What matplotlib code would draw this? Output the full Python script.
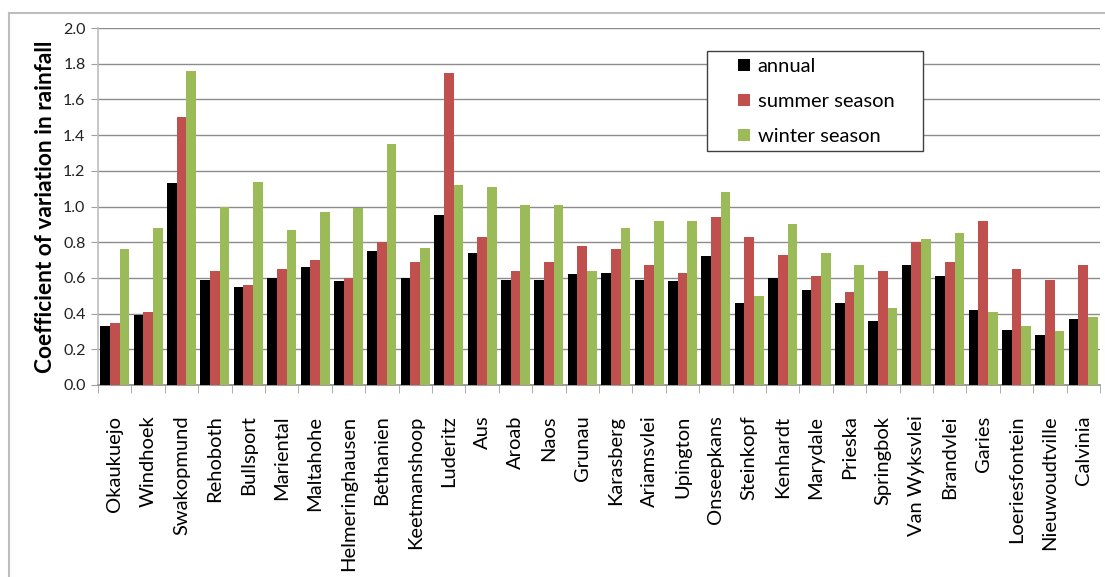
import matplotlib
matplotlib.use("Agg")
import matplotlib.pyplot as plt
from matplotlib.lines import Line2D
from matplotlib.patches import Patch, Rectangle
import numpy as np

plt.rcParams['font.family'] = ['Lato', 'DejaVu Sans']

stations = ["Okaukuejo", "Windhoek", "Swakopmund", "Rehoboth", "Bullsport",
            "Mariental", "Maltahohe", "Helmeringhausen", "Bethanien", "Keetmanshoop",
            "Luderitz", "Aus", "Aroab", "Naos", "Grunau", "Karasberg", "Ariamsvlei",
            "Upington", "Onseepkans", "Steinkopf", "Kenhardt", "Marydale", "Prieska",
            "Springbok", "Van Wyksvlei", "Brandvlei", "Garies", "Loeriesfontein",
            "Nieuwoudtville", "Calvinia"]

annual = [0.33, 0.39, 1.13, 0.59, 0.55, 0.60, 0.66, 0.58, 0.75, 0.60,
          0.95, 0.74, 0.59, 0.59, 0.62, 0.63, 0.59, 0.58, 0.72, 0.46,
          0.60, 0.53, 0.46, 0.36, 0.67, 0.61, 0.42, 0.31, 0.28, 0.37]
summer = [0.35, 0.41, 1.50, 0.64, 0.56, 0.65, 0.70, 0.60, 0.80, 0.69,
          1.75, 0.83, 0.64, 0.69, 0.78, 0.76, 0.67, 0.63, 0.94, 0.83,
          0.73, 0.61, 0.52, 0.64, 0.80, 0.69, 0.92, 0.65, 0.59, 0.67]
winter = [0.76, 0.88, 1.76, 1.00, 1.14, 0.87, 0.97, 0.99, 1.35, 0.77,
          1.12, 1.11, 1.01, 1.01, 0.64, 0.88, 0.92, 0.92, 1.08, 0.50,
          0.90, 0.74, 0.67, 0.43, 0.82, 0.85, 0.41, 0.33, 0.30, 0.38]

series_names = ["annual", "summer season", "winter season"]
colors = ["#000000", "#C0504D", "#9BBB59"]

W, H = 1105, 577
fig = plt.figure(figsize=(W / 100, H / 100), dpi=100)
L, R, T, B = 98, 1100, 28, 385
ax = fig.add_axes([L / W, 1 - B / H, (R - L) / W, (B - T) / H])


def ax_xy(px, py):
    """Pixel position in the figure -> axes fraction."""
    return (px - L) / (R - L), (B - py) / (B - T)


x = np.arange(len(stations))
bw = 0.29
for i, (vals, c) in enumerate(zip([annual, summer, winter], colors)):
    ax.bar(x + (i - 1) * bw, vals, width=bw, color=c, edgecolor="none",
           zorder=3, label=series_names[i])

ax.set_xlim(-0.5, len(stations) - 0.5)
ax.set_ylim(0, 2.0)
yt = np.arange(0, 2.01, 0.2)
ax.set_yticks(yt)
ax.set_yticklabels([f"{v:.1f}" for v in yt], fontsize=11.5)
ax.yaxis.grid(True, color="#8c8c8c", linewidth=1.0, zorder=0)
ax.tick_params(axis="y", direction="out", length=5, color="#a0a0a0", pad=4,
               labelcolor="#222222")

ax.set_xticks(x)
ax.set_xticklabels(stations, rotation=90, fontsize=14.5, va="top", ha="center")
ax.tick_params(axis="x", which="major", length=0, pad=22)
ax.set_xticks(np.arange(-0.5, len(stations), 1.0), minor=True)
ax.tick_params(axis="x", which="minor", direction="out", length=6, color="#a0a0a0")

for side in ["top", "right"]:
    ax.spines[side].set_visible(False)
ax.spines["left"].set_color("#bcbcbc")
ax.spines["bottom"].set_color("#8c8c8c")
ax.spines["left"].set_linewidth(1.2)
ax.spines["bottom"].set_linewidth(1.2)

ax.set_ylabel("Coefficient of variation in rainfall", fontsize=16.3,
              fontweight="bold", labelpad=5)

# legend frame
fx0, fy0 = ax_xy(707, 151)
fx1, fy1 = ax_xy(923, 51)
ax.add_patch(Rectangle((fx0, fy0), fx1 - fx0, fy1 - fy0, transform=ax.transAxes,
                       facecolor="white", edgecolor="#404040", linewidth=1.0,
                       zorder=6))

handles = [Patch(facecolor=c, edgecolor="none") for c in colors]
leg = ax.legend(handles, series_names, loc="upper left",
                bbox_to_anchor=ax_xy(738, 58),
                fontsize=14.5, frameon=False, handlelength=0.58,
                handleheight=0.58, handletextpad=0.4, labelspacing=0.9,
                borderpad=0, borderaxespad=0)
leg.set_zorder(7)

# outer chart frame
fig.add_artist(Line2D([9 / W, 1.0], [1 - 13 / H, 1 - 13 / H],
                      transform=fig.transFigure, color="#bdbdbd", linewidth=1.5))
fig.add_artist(Line2D([9 / W, 9 / W], [0, 1 - 13 / H],
                      transform=fig.transFigure, color="#bdbdbd", linewidth=1.5))

fig.savefig("out.png", dpi=100)
